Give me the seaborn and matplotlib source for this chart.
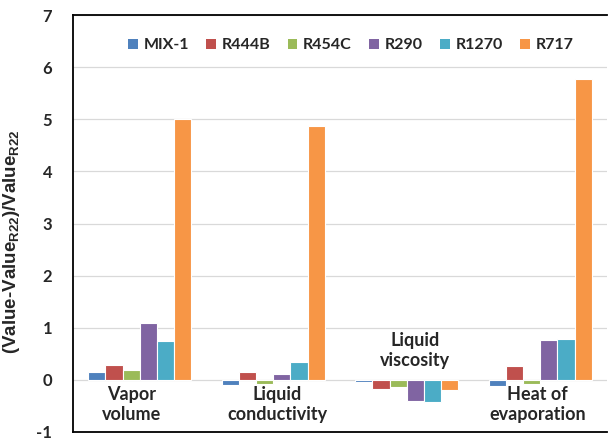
import matplotlib
matplotlib.use("Agg")
import matplotlib.pyplot as plt
import seaborn as sns
import pandas as pd
from matplotlib.patches import Patch

# Relative deviation of each refrigerant property from R22
properties = ["Vapor volume", "Liquid conductivity", "Liquid viscosity", "Heat of evaporation"]
property_labels = ["Vapor\nvolume", "Liquid\nconductivity", "Liquid\nviscosity", "Heat of\nevaporation"]
refrigerants = ["MIX-1", "R444B", "R454C", "R290", "R1270", "R717"]

mix1 = [0.15, -0.09, -0.04, -0.11]
r444b = [0.29, 0.15, -0.17, 0.26]
r454c = [0.19, -0.08, -0.14, -0.08]
r290 = [1.09, 0.12, -0.41, 0.76]
r1270 = [0.74, 0.35, -0.43, 0.78]
r717 = [5.00, 4.87, -0.20, 5.77]

colors = ["#4F81BD", "#C0504D", "#9BBB59", "#8064A2", "#4BACC6", "#F79646"]

series = [mix1, r444b, r454c, r290, r1270, r717]
rows = []
for name, vals in zip(refrigerants, series):
    for prop, v in zip(properties, vals):
        rows.append({"property": prop, "refrigerant": name, "value": v})
df = pd.DataFrame(rows)

sns.set_style("white")
plt.rcParams["font.family"] = ["Lato", "DejaVu Sans"]
plt.rcParams["axes.unicode_minus"] = False
plt.rcParams["mathtext.fontset"] = "custom"
plt.rcParams["mathtext.rm"] = "Liberation Sans:bold"
plt.rcParams["mathtext.it"] = "Liberation Sans:bold"
plt.rcParams["mathtext.bf"] = "Liberation Sans:bold"

fig = plt.figure(figsize=(6.09, 4.43), dpi=100)
ax = fig.add_axes([73 / 609, 11 / 443, 534 / 609, 417 / 443])

sns.barplot(data=df, x="property", y="value", hue="refrigerant",
            order=properties, hue_order=refrigerants, palette=colors,
            saturation=1, width=0.77, edgecolor="white", linewidth=0.8,
            ax=ax, legend=False, zorder=3)

ax.set_xlim(-0.5, 3.5)
ax.set_ylim(-1, 7)
ax.set_yticks(range(-1, 8))
ax.yaxis.grid(True, color="#D9D9D9", linewidth=0.9, zorder=0)
ax.set_axisbelow(True)
ax.set_xticks([])
ax.set_xlabel("")
ax.set_ylabel("(Value-Value$_{R22}$)/Value$_{R22}$", fontsize=13.5,
              fontweight="bold", family="Liberation Sans")
ax.yaxis.set_label_coords(-0.0955, 0.456)
ax.tick_params(axis="y", labelsize=12, length=0, pad=15)
for lbl in ax.get_yticklabels():
    lbl.set_fontweight("bold")

for side in ["left", "top", "bottom"]:
    ax.spines[side].set_color("black")
    ax.spines[side].set_linewidth(1.3)
ax.spines["right"].set_visible(False)

# Property names written inside the plot near the zero line
label_pos = [(-0.06, -0.47), (0.03, -0.47), (0.06, 0.56), (-0.02, -0.48)]
for i, ((dx, y), text) in enumerate(zip(label_pos, property_labels)):
    ax.text(i + dx, y, text, ha="center", va="center", fontsize=13,
            fontweight="bold", linespacing=1.2, zorder=4)

handles = [Patch(facecolor=c, edgecolor="none", label=n)
           for c, n in zip(colors, refrigerants)]
leg = ax.legend(handles=handles, loc="center", bbox_to_anchor=(0.52, 0.927),
                ncol=6, frameon=False, handlelength=0.6, handleheight=0.6,
                handletextpad=0.35, columnspacing=1.1,
                prop={"size": 11.5, "weight": "bold"})

fig.savefig("out.png", dpi=100)
